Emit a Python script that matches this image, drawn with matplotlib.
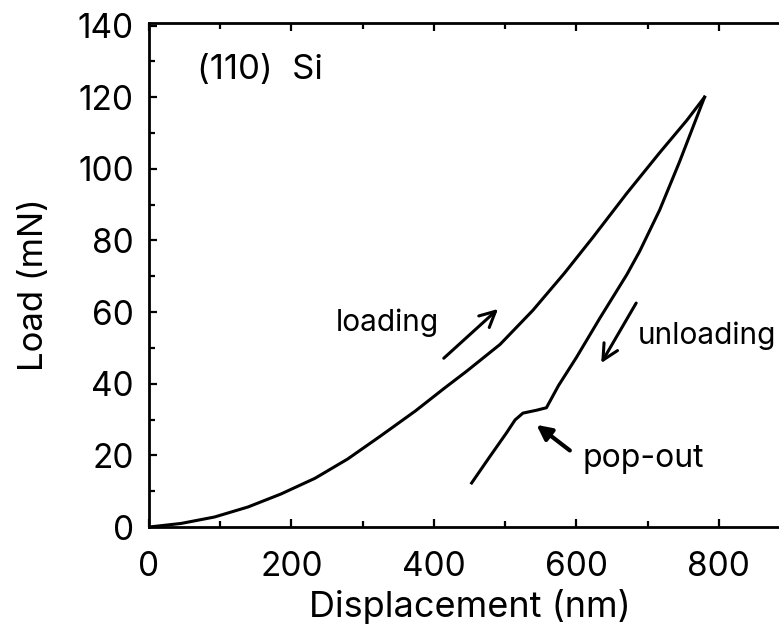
import matplotlib.pyplot as plt
from matplotlib.ticker import MultipleLocator

plt.rcParams['font.family'] = ['Inter', 'Liberation Sans', 'DejaVu Sans']

# loading branch (displacement nm, load mN)
load_x = [0, 45, 92, 139, 185, 233, 279, 325, 374, 415, 446, 493, 539,
          583, 623, 671, 717, 755, 780]
load_y = [0, 1.0, 2.8, 5.6, 9.2, 13.6, 19, 25.4, 32.4, 38.8, 43.5, 51, 60.5,
          70.8, 80.8, 93.2, 104.5, 113.5, 120]

# unloading branch with the pop-out shelf
unload_x = [780, 745, 717, 689, 671, 633, 600, 575, 558, 544, 525, 514,
            502, 478, 453]
unload_y = [120, 102, 88.5, 77, 70.5, 58.3, 47.3, 39.5, 33.3, 32.6,
            31.8, 29.9, 26.3, 19.5, 12.3]

x_ticks = [0, 200, 400, 600, 800]
y_ticks = [0, 20, 40, 60, 80, 100, 120, 140]

fig = plt.figure(figsize=(7.79, 6.24), dpi=100)
ax = fig.add_axes([0.1913, 0.1554, 0.8228, 0.8077])

ax.plot(load_x, load_y, color="black", lw=2.2)
ax.plot(unload_x, unload_y, color="black", lw=2.2)

ax.set_xlim(0, 900)
ax.set_ylim(0, 140.7)
ax.set_xticks(x_ticks)
ax.set_yticks(y_ticks)
ax.xaxis.set_minor_locator(MultipleLocator(100))
ax.yaxis.set_minor_locator(MultipleLocator(10))
ax.tick_params(which="both", direction="in", top=True, right=True, width=1.6)
ax.tick_params(which="major", length=6)
ax.tick_params(which="minor", length=4)
ax.tick_params(axis="x", which="major", labelsize=24, pad=17)
ax.tick_params(axis="y", which="major", labelsize=24, pad=11)
for s in ax.spines.values():
    s.set_linewidth(2)

ax.set_xlabel("Displacement (nm)", fontsize=26)
ax.set_ylabel("Load (mN)", fontsize=25)
ax.xaxis.set_label_coords(0.5, -0.122)
ax.yaxis.set_label_coords(-0.154, 0.48)

ax.text(67, 127.5, "(110)  Si", fontsize=25, va="center", ha="left")
ax.text(262, 57, "loading", fontsize=21.5, va="center", ha="left")
ax.text(686, 53.5, "unloading", fontsize=21.5, va="center", ha="left")
ax.text(609, 19.2, "pop-out", fontsize=23, va="center", ha="left")

ax.annotate("", xy=(493, 61.4), xytext=(411, 46.6),
            arrowprops=dict(arrowstyle="->", lw=2.2, mutation_scale=28, color="black"))
ax.annotate("", xy=(633, 45.1), xytext=(686, 63.2),
            arrowprops=dict(arrowstyle="->", lw=2.2, mutation_scale=28, color="black"))
ax.annotate("", xy=(541, 29), xytext=(594, 20.9),
            arrowprops=dict(arrowstyle="-|>", lw=3, mutation_scale=22, color="black"))

plt.savefig("out.png", dpi=100)
